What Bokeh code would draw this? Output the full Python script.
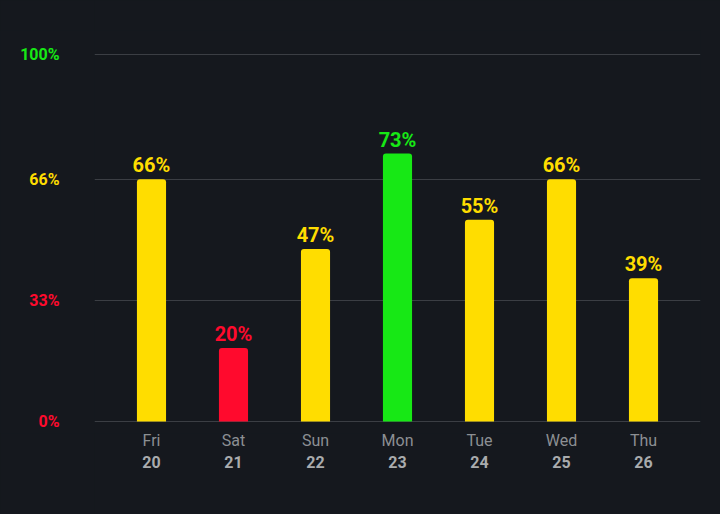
from bokeh.plotting import figure
from bokeh.layouts import row
from bokeh.models import (FactorRange, Range1d, ColumnDataSource, LabelSet,
                          FixedTicker, CategoricalAxis)
from bokeh.core.properties import value
from bokeh.embed import file_html
from bokeh.resources import INLINE

days = ["Fri", "Sat", "Sun", "Mon", "Tue", "Wed", "Thu"]
dates = ["20", "21", "22", "23", "24", "25", "26"]
values = [66, 20, 47, 73, 55, 66, 39]
y_ticks = [0, 33, 66, 100]
y_tick_labels = ["0%", "33%", "66%", "100%"]

RED, YELLOW, GREEN = "#ff0a2d", "#ffdd00", "#17e815"
BG = "#15181e"
FONT = "Roboto"

PX = 3.67          # pixels per percent
TOP_PAD = 24       # frame space above 100%
BOT_PAD = 12       # frame space below 0%


def color_for(v):
    if v < 33:
        return RED
    if v < 70:
        return YELLOW
    return GREEN


y_tick_colors = [RED, RED, YELLOW, GREEN]

src = ColumnDataSource(dict(
    day=days,
    val=values,
    txt=[f"{v}%" for v in values],
    col=[color_for(v) for v in values],
))

yr = Range1d(-BOT_PAD / PX, 100 + TOP_PAD / PX)

# ---- main chart ----
p = figure(width=626, height=514, output_backend="svg", toolbar_location=None,
           x_range=FactorRange(*days, range_padding=0.195, range_padding_units="absolute"),
           y_range=yr,
           min_border_left=0, min_border_right=20, min_border_top=54 - TOP_PAD,
           min_border_bottom=514 - 421 - BOT_PAD)
p.extra_x_ranges = {"dates": FactorRange(*dates, range_padding=0.195, range_padding_units="absolute")}

p.background_fill_color = BG
p.border_fill_color = BG
p.outline_line_color = None

p.vbar(x="day", top="val", bottom=0, width=0.355, source=src,
       fill_color="col", line_color=None, border_radius=(3, 3, 0, 0))

p.add_layout(LabelSet(x="day", y="val", text="txt", source=src, text_color="col",
                      text_align="center", text_baseline="alphabetic", y_offset=7,
                      text_font=value(FONT), text_font_style="bold", text_font_size="20px"))

p.yaxis.visible = False
p.ygrid[0].ticker = FixedTicker(ticks=y_ticks)
p.ygrid.grid_line_color = "#3b3e44"
p.ygrid.grid_line_width = 1
p.xgrid.grid_line_color = None

ax = p.xaxis[0]
ax.axis_line_color = None
ax.major_tick_line_color = None
ax.minor_tick_line_color = None
ax.major_tick_out = 0
ax.major_tick_in = 0
ax.major_label_standoff = 9 - BOT_PAD
ax.major_label_text_color = "#8c8f93"
ax.major_label_text_font = FONT
ax.major_label_text_font_size = "16px"

ax2 = CategoricalAxis(x_range_name="dates", axis_line_color=None, major_tick_line_color=None,
                      minor_tick_line_color=None, major_tick_out=0, major_tick_in=0,
                      major_label_standoff=3,
                      major_label_text_color="#a9abad", major_label_text_font=FONT,
                      major_label_text_font_style="bold", major_label_text_font_size="16px")
p.add_layout(ax2, "below")

# ---- y tick labels (coloured individually) ----
lsrc = ColumnDataSource(dict(
    x=[59] * len(y_ticks),
    y=y_ticks,
    txt=y_tick_labels,
    col=y_tick_colors,
))
left = figure(width=94, height=514, output_backend="svg", toolbar_location=None,
              x_range=Range1d(0, 94), y_range=yr,
              x_axis_location=None, y_axis_location=None,
              min_border_left=0, min_border_right=0, min_border_top=54 - TOP_PAD,
              min_border_bottom=514 - 421 - BOT_PAD)
left.background_fill_color = BG
left.border_fill_color = BG
left.outline_line_color = None
left.grid.grid_line_color = None
left.text(x="x", y="y", text="txt", source=lsrc, text_color="col",
          text_align="right", text_baseline="middle",
          text_font=value(FONT), text_font_style="bold", text_font_size="16px")

layout = row(left, p, spacing=0)

html = file_html(layout, INLINE)
html = html.replace("<head>", "<head><style>html,body{background:#15181e;}</style>", 1)
open("out.html", "w").write(html)
